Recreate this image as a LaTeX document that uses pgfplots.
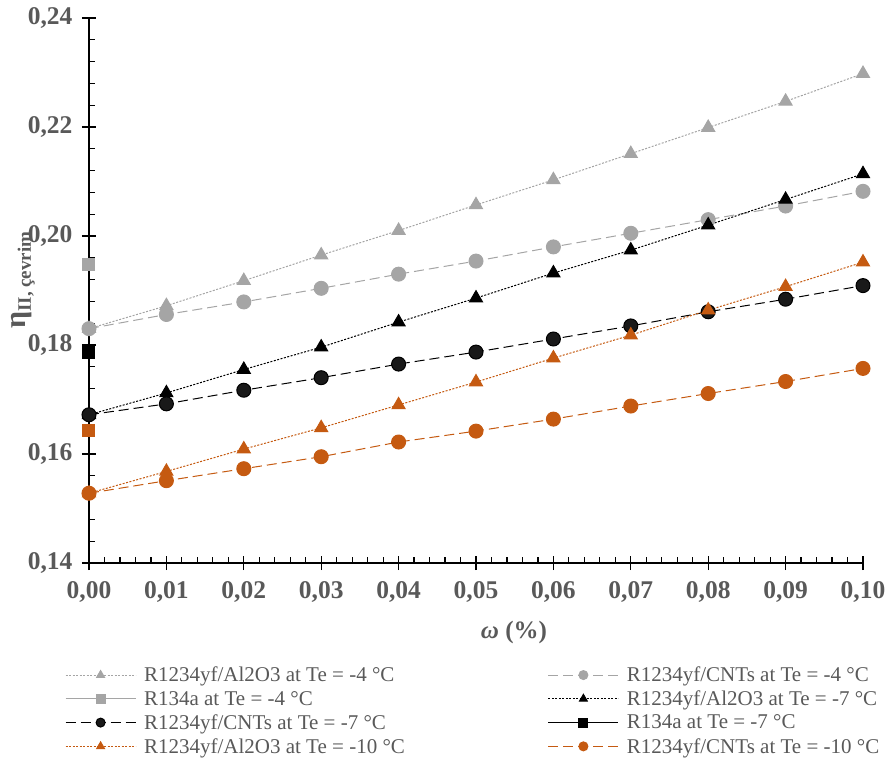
\documentclass[border=0pt]{standalone}
\usepackage{fontspec}
\setmainfont{Liberation Serif}
\usepackage{pgfplots}
\pgfplotsset{compat=1.18}
\definecolor{grayc}{HTML}{A5A5A5}
\definecolor{orangec}{HTML}{C55A11}
\definecolor{txtgray}{HTML}{595959}
\begin{document}
\begin{tikzpicture}
\begin{axis}[
  scale only axis, width=774bp, height=545bp,
  xmin=0, xmax=0.1, ymin=0.14, ymax=0.24,
  axis x line=bottom, axis y line=left,
  axis line style={-, line width=1.4bp, black},
  xtick={0,0.01,0.02,0.03,0.04,0.05,0.06,0.07,0.08,0.09,0.10},
  ytick={0.14,0.16,0.18,0.20,0.22,0.24},
  minor x tick num=4, minor y tick num=4,
  tick align=inside,
  major tick length=14bp, minor tick length=6bp,
  every major x tick/.append style={yshift=-7bp},
  every major y tick/.append style={xshift=-7bp},
  tick style={black, line width=1.2bp},
  /pgf/number format/.cd, fixed, fixed zerofill, precision=2, use comma, assume math mode=true,
  /pgfplots/.cd,
  ticklabel style={font=\fontsize{25.5bp}{25.5bp}\selectfont\bfseries, text=txtgray},
  xticklabel style={yshift=-15bp},
  yticklabel style={xshift=-13bp},
  xlabel={\bfseries\itshape ω\upshape\ (\%)},
  xlabel style={at={(axis description cs:0.549,-0.127)}, anchor=center, font=\fontsize{25bp}{25bp}\selectfont, text=txtgray},
  ylabel={\bfseries{\fontsize{30bp}{30bp}\selectfont η}\raisebox{-5bp}{\fontsize{19bp}{19bp}\selectfont II, çevrim}},
  every axis y label/.style={at={(axis description cs:-0.085,0.519)}, anchor=center, rotate=90, text=txtgray},
  legend columns=2,
  legend cell align=left,
  legend style={at={(-0.035,-0.183)}, anchor=north west, draw=none, fill=none,
    font=\fontsize{21bp}{25bp}\selectfont, text=txtgray,
    /tikz/every even column/.append style={column sep=141bp}, row sep=3.5bp},
  legend image code/.code={\draw[mark repeat=2,mark phase=2,mark size=4.5bp] plot coordinates {(0bp,0bp) (35bp,0bp) (70bp,0bp)}; \path (76bp,0bp);},
]
% R1234yf/Al2O3 -4
\addplot[grayc, line width=1bp, dash pattern=on 2bp off 1.5bp, mark=triangle*, mark size=7.5bp, mark options={solid, fill=grayc, draw=grayc}]
 coordinates {(0,0.1830) (0.01,0.1872) (0.02,0.1918) (0.03,0.1965) (0.04,0.2010) (0.05,0.2057) (0.06,0.2103) (0.07,0.2151) (0.08,0.2199) (0.09,0.2247) (0.10,0.2298)};
\addlegendentry{R1234yf/Al2O3 at Te = -4 °C}
% R1234yf/CNTs -4
\addplot[grayc, line width=1bp, dash pattern=on 10bp off 5bp, mark=*, mark size=7bp, mark options={solid, fill=grayc, draw=grayc}]
 coordinates {(0,0.1830) (0.01,0.1856) (0.02,0.1879) (0.03,0.1904) (0.04,0.1930) (0.05,0.1954) (0.06,0.1980) (0.07,0.2005) (0.08,0.2030) (0.09,0.2055) (0.10,0.2082)};
\addlegendentry{R1234yf/CNTs at Te = -4 °C}
% R134a -4
\addplot[grayc, line width=1bp, solid, mark=square*, mark size=6bp, mark options={solid, fill=grayc, draw=grayc}]
 coordinates {(0,0.1948)};
\addlegendentry{R134a at Te = -4 °C}
% R1234yf/Al2O3 -7
\addplot[black, line width=1bp, dash pattern=on 2bp off 1.5bp, mark=triangle*, mark size=7.5bp, mark options={solid, fill=black, draw=black}]
 coordinates {(0,0.1672) (0.01,0.1712) (0.02,0.1755) (0.03,0.1796) (0.04,0.1842) (0.05,0.1886) (0.06,0.1932) (0.07,0.1974) (0.08,0.2020) (0.09,0.2067) (0.10,0.2114)};
\addlegendentry{R1234yf/Al2O3 at Te = -7 °C}
% R1234yf/CNTs -7
\addplot[black, line width=1bp, dash pattern=on 10bp off 5bp, mark=*, mark size=7bp, mark options={solid, fill=black!90, draw=black}]
 coordinates {(0,0.1672) (0.01,0.1692) (0.02,0.1717) (0.03,0.1740) (0.04,0.1765) (0.05,0.1787) (0.06,0.1811) (0.07,0.1835) (0.08,0.1861) (0.09,0.1884) (0.10,0.1909)};
\addlegendentry{R1234yf/CNTs at Te = -7 °C}
% R134a -7
\addplot[black, line width=1bp, solid, mark=square*, mark size=6bp, mark options={solid, fill=black, draw=black}]
 coordinates {(0,0.1786)};
\addlegendentry{R134a at Te = -7 °C}
% R1234yf/Al2O3 -10
\addplot[orangec, line width=1bp, dash pattern=on 2bp off 1.5bp, mark=triangle*, mark size=7.5bp, mark options={solid, fill=orangec, draw=orangec}]
 coordinates {(0,0.1528) (0.01,0.1568) (0.02,0.1609) (0.03,0.1648) (0.04,0.1690) (0.05,0.1732) (0.06,0.1776) (0.07,0.1818) (0.08,0.1864) (0.09,0.1907) (0.10,0.1952)};
\addlegendentry{R1234yf/Al2O3 at Te = -10 °C}
% R1234yf/CNTs -10
\addplot[orangec, line width=1bp, dash pattern=on 10bp off 5bp, mark=*, mark size=7bp, mark options={solid, fill=orangec, draw=orangec}]
 coordinates {(0,0.1528) (0.01,0.1551) (0.02,0.1573) (0.03,0.1595) (0.04,0.1622) (0.05,0.1642) (0.06,0.1664) (0.07,0.1688) (0.08,0.1711) (0.09,0.1733) (0.10,0.1757)};
\addlegendentry{R1234yf/CNTs at Te = -10 °C}
% R134a -10
\addplot[orangec, line width=1bp, solid, mark=square*, mark size=6bp, mark options={solid, fill=orangec, draw=orangec}, forget plot]
 coordinates {(0,0.1643)};
\end{axis}
\pgfresetboundingbox
\path (-89bp,-195bp) rectangle (796bp,563bp);
\end{tikzpicture}
\end{document}
